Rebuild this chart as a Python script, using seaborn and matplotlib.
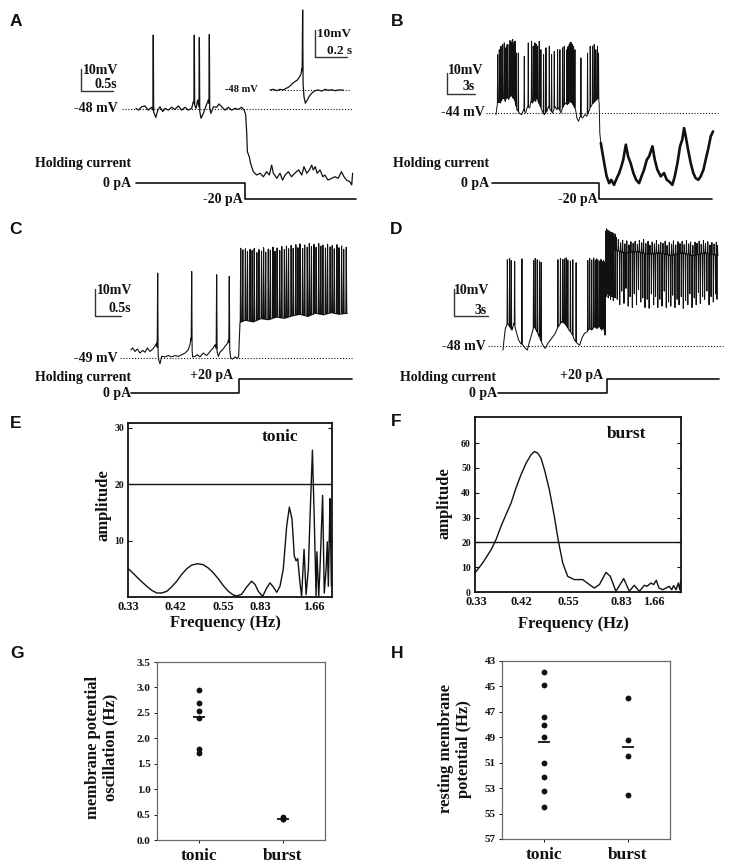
import numpy as np
import pandas as pd
import matplotlib
matplotlib.use("Agg")
import matplotlib.pyplot as plt
import seaborn as sns

# ===================== DATA =====================
# ---- Panel A: tonic cell, time (s) / membrane potential (mV)
a_base_t = [0, .036, .089, .14, .19, .245, .31, .34, .375, .417, .453, .505, .557, .61, .66, .714,
            .766, .818, .87, .896, .9375, .964, 1.016, 1.052, 1.094, 1.13, 1.17, 1.21, 1.26, 1.297,
            1.34, 1.39, 1.443, 1.495, 1.547, 1.6, 1.65, 1.69, 1.714, 1.73, 1.74, 1.77, 1.79, 1.833,
            1.885, 1.94, 1.99, 2.04, 2.083, 2.12, 2.146, 2.2, 2.25, 2.29, 2.33, 2.38, 2.43, 2.48,
            2.54, 2.59, 2.625, 2.667, 2.71, 2.745, 2.77, 2.8, 2.83, 2.875, 2.92, 2.95, 3.0, 3.057,
            3.11, 3.16, 3.21, 3.25, 3.29, 3.34, 3.37, 3.385]
a_base_v = [-47.7, -48.5, -47, -46.6, -48.5, -47.2, -51.8, -48.5, -47, -49.2, -47.7, -48.5, -47.2,
            -48.2, -46.6, -48.5, -47.2, -48.5, -47.7, -44.7, -47.7, -43.9, -52.2, -50, -46.6, -43.9,
            -50, -47, -47.2, -45.7, -47, -48.5, -47.2, -48.5, -47.7, -48.2, -47.2, -48.5, -50.7, -59,
            -67.4, -69.7, -72.7, -76.5, -78, -77.2, -78.8, -76.5, -78, -73.5, -77.2, -79.5, -77.2,
            -80.3, -78, -76.5, -78.8, -77.2, -75.7, -78, -74.2, -77.2, -75.7, -73.5, -75.7, -74.2,
            -77.2, -75.7, -78.8, -78, -80.3, -79.5, -78.8, -79.5, -76.5, -78.8, -80.3, -81, -82.5, -77.2]
a_spk_t = [0.27, 0.911, 0.99, 1.146]
a_spk_v = [-14.4, -14.4, -15.6, -14.1]
a_hold_t = [0, 1.70, 1.70, 3.44]
a_hold_i = [0, 0, -20, -20]

# ---- Panel A inset (expanded time base)
ai_base_t = [0, .021, .042, .0625, .083, .1, .115, .125, .142, .156, .171, .183, .194, .2, .2125,
             .221, .233, .25, .265, .281, .302, .323, .344, .365, .385, .406, .427, .458]
ai_base_v = [-48, -47.75, -48.25, -47.75, -48, -47.4, -47, -46.5, -45.5, -44.9, -44.3, -43.3, -42.1,
             -40, -50.5, -52.9, -51.7, -49.9, -49, -48.25, -48, -48.4, -47.75, -48.1, -47.9, -48.25,
             -48, -48]
ai_spk_t = [0.204]
ai_spk_v = [-18.4]

# ---- Panel B: burst cell
b_base_t = [0, .11, .25, .47, .65, .83, 1.01, 1.19, 1.37, 1.62, 1.84, 1.99, 2.13, 2.27, 2.53, 2.78,
            2.99, 3.21, 3.43, 3.65, 3.79, 3.97, 4.15, 4.30, 4.44, 4.62, 4.80, 5.02, 5.23, 5.52, 5.70,
            5.88, 6.14, 6.39, 6.57, 6.79, 7.04, 7.29, 7.55, 7.76, 8.01, 8.27, 8.45, 8.63, 8.77, 8.95,
            9.13, 9.39, 9.64, 9.86, 10.07, 10.29, 10.54, 10.76, 10.94, 11.08, 11.19, 11.26, 11.37,
            11.55, 11.8, 12.0, 12.27, 12.5, 12.8, 13.1, 13.36, 13.6, 13.8, 14.08, 14.33, 14.6, 14.9,
            15.2, 15.52, 15.78, 16.06, 16.35, 16.6, 16.97, 17.22, 17.5, 17.87, 18.23, 18.52, 18.77,
            19.13, 19.39, 19.68, 19.96, 20.2, 20.4, 20.58, 20.83, 21.12, 21.4, 21.66, 21.95, 22.2,
            22.5, 22.74, 23.0, 23.29, 23.54]
b_base_v = [-44.8, -40.8, -38.4, -39.2, -37.5, -36.7, -38.4, -35.9, -37.5, -35.1, -36.7, -37.5, -40,
            -42.4, -44, -44.8, -42.4, -44, -40.8, -41.6, -38.4, -39.2, -37.5, -38.4, -36.7, -39.2,
            -40.8, -43.2, -44.8, -43.2, -40.8, -42.4, -44, -40.8, -42.4, -41.6, -44, -40.8, -39.2,
            -40, -38.4, -39.2, -40.8, -42.4, -46.4, -48, -45.6, -46.4, -44.8, -45.6, -43.2, -40.8,
            -39.2, -38.4, -37.5, -36.7, -39.2, -53.7, -58.5, -63.4, -69.8, -74.6, -77.9, -76.3, -78.7,
            -75.5, -73, -69.8, -66.6, -59.3, -65, -68.2, -73, -76.3, -77.9, -74.6, -71.4, -66.6, -65,
            -60.1, -66.6, -71.4, -74.6, -73, -76.3, -77.1, -78.7, -74.6, -68.2, -60.1, -56.9, -51.3,
            -55.3, -61.7, -68.2, -73, -75.5, -76.3, -74.6, -71.4, -66.6, -61.7, -55.3, -52.9]
b_spk_t = [0.18, 0.36, 0.54, 0.72, 0.90, 1.08, 1.20, 1.26, 1.44, 1.52, 1.55, 1.70, 1.76,
           1.81, 1.91, 1.98, 2.06, 2.20, 2.42, 3.07, 3.50, 3.86, 4.04, 4.22, 4.37, 4.51, 4.69,
           4.87, 5.16, 5.42, 5.78, 6.03, 6.32, 6.68, 6.93, 7.22, 7.40, 7.69, 7.80, 7.94, 8.05, 8.19,
           8.30, 8.41, 8.56, 9.21, 9.93, 10.22, 10.47, 10.65, 10.83, 11.01, 11.12]
b_spk_v = [-15.8, -13.4, -11.7, -10.9, -10.1, -12.5, -11.0, -10.9, -10.9, -9.0, -11.7,
           -10.1, -9.0, -8.5, -10.9, -9.8, -9.3, -15.0, -15.0, -16.6, -10.1, -9.3, -11.7, -10.1,
           -10.9, -11.7, -9.3, -13.4, -15.8, -12.5, -11.7, -15.8, -14.2, -13.4, -13.4, -12.5, -11.7,
           -13.4, -12.0, -10.9, -9.8, -10.1, -11.0, -11.7, -13.4, -17.4, -15.0, -11.7, -11.7, -10.9,
           -13.4, -11.7, -15.0]
b_hold_t = [-0.43, 11.2, 11.2, 23.4]
b_hold_i = [0, 0, -20, -20]

# ---- Panel C: tonic cell, +20 pA
c_base_t = [0, .032, .077, .122, .173, .224, .27, .314, .365, .417, .46, .494, .532, .558, .59, .654,
            .718, .782, .846, .91, .974, 1.04, 1.10, 1.135, 1.154, 1.186, 1.23, 1.276, 1.327, 1.39,
            1.455, 1.52, 1.583, 1.615, 1.68, 1.71, 1.76, 1.81, 1.86, 1.875, 1.917, 1.955, 2.0, 2.045,
            2.07, 2.096, 2.2, 2.35, 2.5, 2.65, 2.8, 2.95, 3.1, 3.25, 3.4, 3.55, 3.7, 3.85, 4.0, 4.16]
c_base_v = [-46, -45.3, -46.6, -45.7, -47.2, -46.2, -46.9, -45.3, -46.6, -45.7, -44.7, -43.5, -49.6,
            -51.1, -48.4, -48.6, -48.1, -48.6, -48.1, -48.4, -47.8, -47.2, -46, -44.1, -41.7, -48.6,
            -48.4, -47.8, -48.6, -47.2, -48.1, -46.6, -45.3, -44.1, -48.4, -46.9, -46, -44.7, -43.5,
            -42.3, -49, -49.4, -48.6, -49.1, -48.4, -36, -35.2, -35.8, -34.6, -35, -34, -34.5, -33.6,
            -33, -33.8, -32.6, -33.2, -32.4, -33, -32.6]
c_spk_t = [0.513, 1.167, 1.647, 1.89,
           2.11, 2.15, 2.20, 2.24, 2.29, 2.33, 2.37, 2.42, 2.46, 2.51, 2.55, 2.59, 2.64, 2.68, 2.73,
           2.77, 2.81, 2.86, 2.90, 2.95, 2.99, 3.03, 3.08, 3.12, 3.17, 3.21, 3.25, 3.30, 3.34, 3.39,
           3.43, 3.47, 3.52, 3.56, 3.61, 3.65, 3.69, 3.74, 3.78, 3.83, 3.87, 3.91, 3.96, 4.00, 4.05,
           4.09, 4.14]
c_spk_v = [-17.9, -17.3, -18.5, -19.1,
           -8.8, -9.4, -9.0, -10.0, -9.2, -9.6, -8.9, -10.4, -9.3, -9.8, -8.6, -10.2, -9.1, -9.5, -8.4,
           -9.9, -8.7, -9.6, -8.2, -9.3, -8.0, -9.0, -7.8, -8.8, -7.5, -8.6, -7.2, -8.9, -7.6, -8.4,
           -7.0, -8.2, -7.4, -8.5, -7.1, -8.0, -7.6, -8.7, -7.3, -8.3, -7.8, -9.0, -7.5, -8.6, -8.0,
           -9.2, -8.4]
c_hold_t = [0, 2.08, 2.08, 4.25]
c_hold_i = [0, 0, 20, 20]

# ---- Panel D: burst cell, +20 pA
d_base_t = [0, .09, .21, .39, .59, .8, .98, 1.19, 1.39, 1.57, 1.78, 1.99, 2.17, 2.37, 2.58, 2.76, 2.97,
            3.18, 3.35, 3.56, 3.77, 4.0, 4.24, 4.45, 4.66, 4.84, 5.04, 5.25, 5.49, 5.7, 5.9, 6.14,
            6.38, 6.62, 6.85, 7.06, 7.27, 7.51, 7.72, 7.92, 8.16, 8.4, 8.6, 8.81, 8.99, 9.11, 9.17,
            9.3, 10.0, 11.0, 12.0, 13.0, 14.0, 15.0, 16.0, 17.0, 18.0, 19.2]
d_base_v = [-49.6, -45.9, -41.7, -39.8, -41, -42.3, -39.8, -42.9, -45.9, -47.1, -47.8, -49, -49.6,
            -46.5, -43.5, -41, -42.3, -44.1, -45.9, -47.8, -49, -47.1, -45.9, -44.7, -43.5, -41.7,
            -40.4, -39.2, -39.8, -41, -42.3, -43.5, -45.9, -47.1, -47.8, -45.1, -43.5, -42.9, -41.7,
            -42.3, -41, -41.7, -40.8, -42.3, -41, -44.1, -22, -14, -13, -14, -13.5, -14.5, -14, -15,
            -14, -15, -14, -15]
d_spk_t = [0.39, 0.59, 0.74, 1.04, 1.69, 2.73, 2.88, 3.06, 3.26, 3.41, 4.90, 5.13, 5.34, 5.49, 5.64,
           5.79, 6.02, 6.23, 6.53, 7.57, 7.74, 7.92, 8.10, 8.25, 8.34, 8.46, 8.61, 8.75, 8.87, 8.99,
           9.08,
           9.20, 9.24, 9.28, 9.33, 9.37, 9.42, 9.47, 9.52, 9.58, 9.63, 9.69, 9.75, 9.81, 9.88, 9.95,
           10.03, 10.12, 10.30, 10.50, 10.68, 10.88, 11.05, 11.25, 11.42, 11.62, 11.80, 12.00, 12.18,
           12.38, 12.55, 12.75, 12.95, 13.12, 13.32, 13.52, 13.70, 13.90, 14.08, 14.28, 14.48, 14.65,
           14.85, 15.05, 15.22, 15.42, 15.62, 15.80, 16.00, 16.18, 16.38, 16.58, 16.75, 16.95, 17.15,
           17.32, 17.52, 17.70, 17.90, 18.08, 18.28, 18.48, 18.65, 18.85, 19.05, 19.15]
d_spk_v = [-16.5, -16.0, -16.8, -17.2, -16.2, -16.8, -16.0, -16.5, -17.0, -17.5, -16.5, -16.0, -16.4,
           -16.2, -15.8, -16.6, -17.0, -16.5, -17.6, -16.8, -16.0, -16.6, -15.9, -16.8, -16.2, -16.5,
           -17.0, -16.4, -17.2, -16.8, -17.5,
           -6.0, -5.2, -6.5, -5.6, -7.0, -5.9, -6.8, -6.1, -7.2, -6.4, -7.5, -6.6, -7.8, -6.9, -8.0,
           -7.1, -8.4, -9.1, -10.3, -9.4, -10.7, -9.6, -11.1, -9.9, -10.5, -9.7, -10.9, -9.5, -10.3,
           -9.1, -10.6, -9.8, -11.2, -10.0, -10.7, -9.5, -11.0, -10.1, -10.5, -9.7, -11.3, -10.2,
           -10.8, -9.6, -11.1, -9.9, -10.6, -9.8, -11.0, -9.5, -10.7, -10.0, -11.3, -10.1, -10.5,
           -9.7, -10.9, -9.5, -10.6, -9.9, -11.1, -10.2, -10.8, -10.1, -11.3]
d_dip_t = [9.22, 9.31, 9.40, 9.50, 9.60, 9.72, 9.85, 10.0, 10.2, 10.42, 10.6, 10.8, 10.98, 11.18,
           11.35, 11.55, 11.72, 11.92, 12.1, 12.3, 12.48, 12.68, 12.88, 13.05, 13.25, 13.45, 13.62,
           13.82, 14.0, 14.2, 14.4, 14.58, 14.78, 14.98, 15.15, 15.35, 15.55, 15.72, 15.92, 16.1, 16.3,
           16.5, 16.68, 16.88, 17.08, 17.25, 17.45, 17.62, 17.82, 18.0, 18.2, 18.4, 18.58, 18.78,
           18.98, 19.1]
d_dip_v = [-30, -29, -30.5, -29.5, -31, -30, -31.5, -30.5, -31, -33, -28, -32.5, -27, -33.5, -30, -34,
           -29, -33, -27.5, -32, -30.5, -34, -31, -34.3, -29, -33, -30, -34, -31, -33.5, -28, -34, -32,
           -33.5, -29.5, -34, -31, -33, -30, -34.3, -31.5, -33, -29, -34, -30.5, -33, -28.5, -32.5,
           -30, -31, -28, -33, -30, -32, -29, -31]
d_hold_t = [-0.45, 9.29, 9.29, 19.3]
d_hold_i = [0, 0, 20, 20]

# ---- Panels E / F: amplitude spectra (x = position along the frequency axis, 0..1)
freq_labels = ["0.33", "0.42", "0.55", "0.83", "1.66"]
e_tick_pos = [0.0, 0.234, 0.467, 0.647, 0.912]
f_tick_pos = [0.008, 0.227, 0.455, 0.709, 0.866]
e_pos = [.002, .026, .059, .092, .116, .141, .165, .19, .214, .239, .263, .288, .312, .342, .369,
         .394, .418, .443, .467, .492, .516, .533, .557, .582, .606, .623, .639, .66, .68, .696,
         .712, .729, .745, .761, .778, .791, .804, .815, .824, .832, .843, .851, .863, .873, .884,
         .892, .904, .913, .922, .926, .935, .941, .954, .962, .971, .977, .982, .987, .99, .997]
e_amp = [5.0, 4.17, 2.98, 1.90, 1.19, 0.71, 0.71, 1.0, 1.79, 2.8, 3.99, 5.0, 5.65, 5.89, 5.71,
         5.12, 4.29, 3.21, 2.02, 1.01, 0.36, 0.18, 0.48, 1.79, 2.8, 2.2, 1.0, 0.12, 1.6, 2.5,
         1.79, 0.83, 1.9, 4.9, 12.6, 15.9, 13.8, 7.3, 6.4, 6.8, 2.5, 0.12, 8.45, 0.42, 4.9,
         13.8, 26.0, 13.8, 0.12, 8.0, 0.12, 4.9, 18.0, 0.7, 4.9, 9.76, 1.9, 10.8, 17.4, 1.9]
f_pos = [0, .037, .078, .102, .126, .15, .175, .199, .223, .248, .272, .288, .304, .32, .337, .361,
         .385, .405, .426, .45, .482, .523, .555, .579, .604, .636, .657, .684, .722, .749, .773,
         .798, .822, .835, .854, .867, .88, .893, .911, .927, .943, .955, .964, .976, .987, .994, .998]
f_amp = [7.7, 11.7, 17.0, 21.1, 26.4, 31.1, 35.8, 41.9, 47.2, 51.9, 55.3, 56.6, 56.0, 54.0, 49.3, 41.2,
         30.5, 20.4, 11.7, 6.3, 5.0, 5.0, 3.0, 1.6, 3.0, 7.9, 6.3, 0.3, 5.4, 0.3, 2.7,
         0.3, 2.7, 2.3, 3.6, 3.0, 4.7, 1.6, 0.9, 1.6, 2.3, 0.9, 2.6, 0.9, 3.6, 0.9, 4.3]
threshold = 20

# ---- Panels G / H: population data
groups = ["tonic", "burst"]
g_tonic = [2.95, 2.70, 2.54, 2.40, 1.78, 1.72]
g_burst = [0.46, 0.42, 0.41]
g_means = [2.42, 0.41]
h_tonic = [43.9, 44.9, 47.4, 48.0, 49.0, 51.0, 52.1, 53.2, 54.5]
h_burst = [45.9, 49.2, 50.5, 53.5]

# ===================== STYLE =====================
sns.set_theme(style="white")
plt.rcParams["font.family"] = ["Liberation Serif", "DejaVu Serif"]
plt.rcParams["font.weight"] = "bold"
plt.rcParams["axes.labelweight"] = "bold"

W, H = 736, 867
fig = plt.figure(figsize=(W / 100, H / 100), dpi=100)
fig.patch.set_facecolor("white")
K = "#111111"


def add_ax(l, t, r, b):
    return fig.add_axes([l / W, 1 - b / H, (r - l) / W, (b - t) / H])


def trace_ax(box, x0px, pxs, y0px, y0val, pxu):
    l, t, r, b = box
    ax = add_ax(l, t, r, b)
    ax.set_xlim((l - x0px) / pxs, (r - x0px) / pxs)
    ax.set_ylim(y0val - (b - y0px) / pxu, y0val + (y0px - t) / pxu)
    ax.axis("off")
    return ax


def build_trace(bt, bv, st, sv, w):
    bt = np.asarray(bt, float)
    bv = np.asarray(bv, float)
    keep = np.ones(len(bt), bool)
    for t in st:
        keep &= ~((bt > t - w) & (bt < t + w))
    ts = list(bt[keep])
    vs = list(bv[keep])
    for t, v in zip(st, sv):
        ts += [t - w, t, t + w]
        vs += [np.interp(t - w, bt, bv), v, np.interp(t + w, bt, bv)]
    order = np.argsort(ts, kind="stable")
    return np.array(ts)[order], np.array(vs)[order]


def ptext(x, y, s, size=10, ha="right", va="center", **kw):
    fig.text(x / W, 1 - y / H, s, fontsize=size, ha=ha, va=va, fontweight="bold", color=K, **kw)


def letter(x, y, s):
    fig.text(x / W, 1 - y / H, s, fontsize=12.5, ha="center", va="center", fontweight="bold",
             family="Liberation Sans", color=K)


def scalebar(ax, x0, y0, dx, dy):
    ax.plot([x0, x0, x0 + dx], [y0 + dy, y0, y0], color="#333333", lw=1.0, clip_on=False)


def dotted(ax, x0, x1, v):
    ax.plot([x0, x1], [v, v], color=K, lw=0.8, ls=(0, (1, 1.6)), clip_on=False)


def draw_trace(ax, t, v, lw=0.8):
    sns.lineplot(x=t, y=v, ax=ax, color=K, lw=lw, sort=False, estimator=None, clip_on=False)


def draw_hold(ax, t, i):
    sns.lineplot(x=t, y=i, ax=ax, color=K, lw=1.2, sort=False, estimator=None, clip_on=False)


# ===================== PANEL A =====================
axA = trace_ax((60, 0, 365, 215), 136, 64, 109, -48, 2.2)
t, v = build_trace(a_base_t, a_base_v, a_spk_t, a_spk_v, 0.006)
dotted(axA, -0.22, 3.39, -48)
draw_trace(axA, t, v, lw=0.9)
scalebar(axA, -0.86, -39.8, 0.5, 10)
axAi = trace_ax((255, 0, 365, 120), 270, 160, 90, -48, 2.7)
t, v = build_trace(ai_base_t, ai_base_v, ai_spk_t, ai_spk_v, 0.003)
dotted(axAi, 0.0, 0.5, -48)
draw_trace(axAi, t, v, lw=0.9)
scalebar(axAi, 0.281, -35.7, 0.2, 10)
axAh = trace_ax((120, 170, 365, 215), 136, 64, 183, 0, 0.8)
draw_hold(axAh, a_hold_t, a_hold_i)
letter(16, 21, "A")
ptext(83, 70, "10mV", ha="left")
ptext(117, 85, "0.5s")
ptext(118, 109, "-48 mV")
ptext(258, 90, "-48 mV", size=7.5)
ptext(317, 34, "10mV", size=9.5, ha="left")
ptext(352, 51, "0.2 s", size=9.5)
ptext(131, 164, "Holding current")
ptext(131, 183, "0 pA")
ptext(243, 200, "-20 pA")

# ===================== PANEL B =====================
axB = trace_ax((430, 0, 736, 215), 496, 9.22, 113, -44, 2.07)
t, v = build_trace(b_base_t, b_base_v, b_spk_t, b_spk_v, 0.035)
dotted(axB, -1.08, 24.1, -44)
draw_trace(axB, t, v, lw=0.7)
post = t > 11.3
draw_trace(axB, t[post], v[post], lw=1.9)
scalebar(axB, -5.3, -34.8, 3, 10)
axBh = trace_ax((480, 170, 736, 215), 496, 9.22, 183, 0, 0.8)
draw_hold(axBh, b_hold_t, b_hold_i)
letter(397, 21, "B")
ptext(448, 71, "10mV", ha="left")
ptext(475, 87, "3s")
ptext(485, 113, "-44 mV")
ptext(489, 164, "Holding current")
ptext(489, 183, "0 pA")
ptext(598, 200, "-20 pA")

# ===================== PANEL C =====================
axC = trace_ax((80, 220, 368, 405), 131, 52, 358, -49, 2.73)
t, v = build_trace(c_base_t, c_base_v, c_spk_t, c_spk_v, 0.009)
dotted(axC, -0.21, 4.25, -49)
draw_trace(axC, t, v, lw=0.8)
scalebar(axC, -0.69, -33.6, 0.5, 10)
axCh = trace_ax((120, 365, 368, 405), 131, 52, 393, 0, 0.7)
draw_hold(axCh, c_hold_t, c_hold_i)
letter(16, 230, "C")
ptext(97, 291, "10mV", ha="left")
ptext(131, 309, "0.5s")
ptext(118, 358, "-49 mV")
ptext(131, 378, "Holding current")
ptext(233, 376, "+20 pA")
ptext(131, 394, "0 pA")

# ===================== PANEL D =====================
axD = trace_ax((440, 220, 736, 405), 503, 11.2, 345.7, -48, 2.73)
t, v = build_trace(d_base_t, d_base_v, d_spk_t + d_dip_t, d_spk_v + d_dip_v, 0.03)
dotted(axD, -1.34, 19.64, -48)
draw_trace(axD, t, v, lw=0.75)
scalebar(axD, -4.38, -37.1, 3, 10)
axDh = trace_ax((480, 365, 736, 405), 503, 11.2, 393, 0, 0.7)
draw_hold(axDh, d_hold_t, d_hold_i)
letter(396, 230, "D")
ptext(454, 291, "10mV", ha="left")
ptext(487, 310, "3s")
ptext(486, 346, "-48 mV")
ptext(496, 378, "Holding current")
ptext(603, 376, "+20 pA")
ptext(497, 394, "0 pA")


# ===================== PANELS E / F =====================
def spectrum(box, pos, amp, ymax, yticks, ticklabels_y, tick_pos, title, title_xy, ylab_xy, xlab_xy):
    ax = add_ax(*box)
    sns.lineplot(x=pos, y=amp, ax=ax, color=K, lw=1.0, sort=False, estimator=None)
    ax.axhline(threshold, color=K, lw=1.0)
    ax.set_xlim(0, 1)
    ax.set_ylim(0, ymax)
    ax.set_xticks(tick_pos)
    ax.set_xticklabels(freq_labels)
    ax.tick_params(axis="x", direction="in", length=3, width=0.8, labelsize=9, pad=3, colors=K)
    ax.set_yticks(yticks)
    ax.set_yticklabels(ticklabels_y)
    ax.tick_params(axis="y", direction="in", length=3, width=0.8, labelsize=7, pad=3,
                   left=True, right=True, colors=K)
    for s in ax.spines.values():
        s.set_color(K)
        s.set_linewidth(1.3)
    ax.set_xlabel("Frequency (Hz)", fontsize=12, fontweight="bold", color=K)
    ax.xaxis.set_label_coords(*xlab_xy)
    ax.xaxis.label.set_verticalalignment("center")
    ax.set_ylabel("amplitude", fontsize=12, fontweight="bold", color=K)
    ax.yaxis.set_label_coords(*ylab_xy)
    ax.yaxis.label.set_verticalalignment("center")
    ax.text(title_xy[0], title_xy[1], title, transform=ax.transAxes, ha="center", va="center",
            fontsize=12.5, fontweight="bold", color=K)
    ax.set_facecolor("white")
    return ax


spectrum((128, 423, 332, 597), e_pos, e_amp, 30.8, [10, 20, 30], ["10", "20", "30"], e_tick_pos,
         "tonic", (0.745, 0.92), (-0.118, 0.53), (0.48, -0.152))
spectrum((475, 417, 681, 592), f_pos, f_amp, 70.5, [0, 10, 20, 30, 40, 50, 60],
         ["0", "10", "20", "30", "40", "50", "60"], f_tick_pos,
         "burst", (0.738, 0.905), (-0.146, 0.51), (0.476, -0.18))
letter(16, 424, "E")
letter(396, 422, "F")


# ===================== PANELS G / H =====================
def scatter_panel(box, tonic, burst, means, ylim, yticks, yfmt, ylabel, ylab_xy):
    ax = add_ax(*box)
    df = pd.DataFrame({"group": ["tonic"] * len(tonic) + ["burst"] * len(burst),
                       "value": list(tonic) + list(burst)})
    sns.stripplot(data=df, x="group", y="value", order=groups, jitter=False, color=K,
                  size=4.2, ax=ax, linewidth=0)
    for i, m in enumerate(means):
        ax.hlines(m, i - 0.075, i + 0.075, color=K, lw=1.3)
    ax.set_xlim(-0.5, 1.5)
    ax.set_ylim(*ylim)
    ax.set_yticks(yticks)
    ax.set_yticklabels([yfmt.format(y) for y in yticks])
    ax.tick_params(axis="y", direction="out", length=2.5, width=0.7, labelsize=8, pad=2,
                   left=True, colors=K)
    ax.tick_params(axis="x", direction="out", length=2.5, width=0.7, labelsize=12.5, pad=3,
                   bottom=True, colors=K)
    for s in ax.spines.values():
        s.set_color("#6a6a6a")
        s.set_linewidth(0.9)
    ax.set_xlabel("")
    ax.set_ylabel(ylabel, fontsize=12, fontweight="bold", color=K, linespacing=1.15)
    ax.yaxis.set_label_coords(*ylab_xy)
    ax.yaxis.label.set_verticalalignment("center")
    ax.set_facecolor("white")
    return ax


scatter_panel((157, 662, 325, 840), g_tonic, g_burst, g_means, (0, 3.5),
              [0, 0.5, 1.0, 1.5, 2.0, 2.5, 3.0, 3.5], "{:.1f}",
              "membrane potential\noscillation (Hz)", (-0.33, 0.52))
h_means = [float(np.mean(h_tonic)), float(np.mean(h_burst))]
scatter_panel((502, 661, 670, 839), h_tonic, h_burst, h_means, (57, 43),
              [43, 45, 47, 49, 51, 53, 55, 57], "{:d}",
              "resting membrane\npotential (Hz)", (-0.28, 0.506))
letter(17, 653, "G")
letter(397, 653, "H")

fig.savefig("out.png", dpi=100, facecolor="white")
